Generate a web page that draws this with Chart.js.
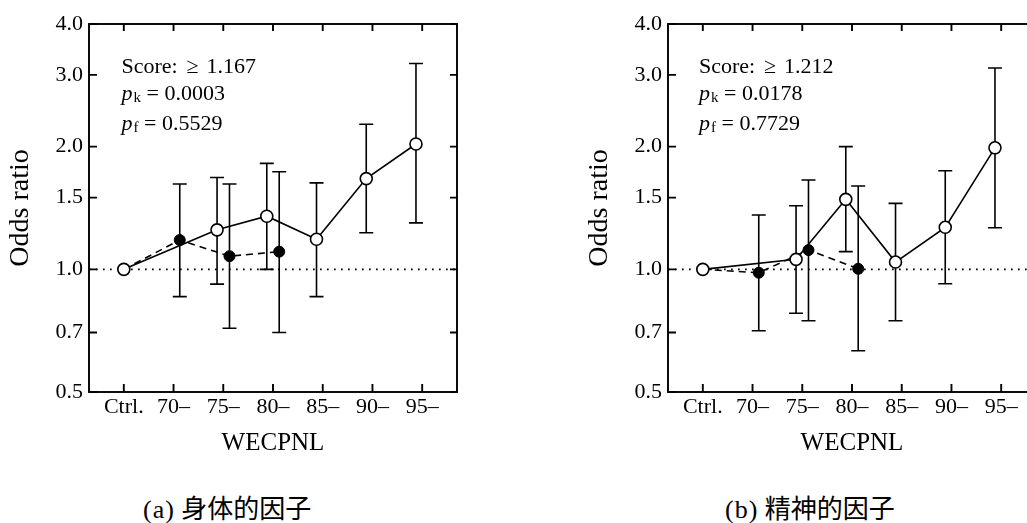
<!DOCTYPE html>
<html>
<head>
<meta charset="utf-8">
<script src="https://cdn.jsdelivr.net/npm/chart.js@4.4.0/dist/chart.umd.min.js"></script>
<style>
html,body{margin:0;padding:0;background:#fff;overflow:hidden;width:1027px;height:523px;}
.panel{position:absolute;top:0;width:500px;height:460px;}
.cap{position:absolute;top:492px;height:30px;line-height:30px;font-size:26px;white-space:nowrap;color:#000;}
.cap .l{font-family:"Liberation Serif",serif;letter-spacing:1px;}
.cap .c{font-family:"Noto Sans CJK JP",sans-serif;}
</style>
</head>
<body>
<div class="panel" style="left:0px"><canvas id="chartA" width="500" height="460"></canvas></div>
<div class="panel" style="left:579px"><canvas id="chartB" width="500" height="460"></canvas></div>
<div class="cap" style="left:143px"><span class="l">(a)</span> <span class="c">身体的因子</span></div>
<div class="cap" style="left:725px"><span class="l">(b)</span> <span class="c">精神的因子</span></div>
<script>
// ---- data ----
const categories = ["Ctrl.", "70–", "75–", "80–", "85–", "90–", "95–"];
const yTickValues = [0.5, 0.7, 1.0, 1.5, 2.0, 3.0, 4.0];

// (a) 身体的因子 : open circles (solid line)
const aOpenCat = [0, 2, 3, 4, 5, 6];
const aOpenOR  = [1.00, 1.25, 1.35, 1.185, 1.67, 2.03];
const aOpenLo  = [null, 0.92, 1.00, 0.857, 1.23, 1.30];
const aOpenHi  = [null, 1.68, 1.82, 1.63, 2.27, 3.20];
// (a) filled circles (dashed line)
const aFillCat = [0, 1, 2, 3];
const aFillOR  = [1.00, 1.18, 1.077, 1.105];
const aFillLo  = [null, 0.857, 0.717, 0.700];
const aFillHi  = [null, 1.62, 1.62, 1.735];
const aScore = "1.167", aPk = "0.0003", aPf = "0.5529";

// (b) 精神的因子 : open circles (solid line)
const bOpenCat = [0, 2, 3, 4, 5, 6];
const bOpenOR  = [1.00, 1.058, 1.485, 1.042, 1.268, 1.987];
const bOpenLo  = [null, 0.780, 1.105, 0.748, 0.922, 1.265];
const bOpenHi  = [null, 1.432, 2.00, 1.452, 1.745, 3.12];
// (b) filled circles (dashed line)
const bFillCat = [0, 1, 2, 3];
const bFillOR  = [1.00, 0.981, 1.115, 1.003];
const bFillLo  = [null, 0.707, 0.748, 0.631];
const bFillHi  = [null, 1.359, 1.656, 1.601];
const bScore = "1.212", bPk = "0.0178", bPf = "0.7729";

// ---- styling ----
const SERIF = '"Liberation Serif", "Times New Roman", serif';
const OPEN_SHIFT = -0.125, FILL_SHIFT = 0.125, CAP = 7;

function pts(cats, or, lo, hi, shift) {
  return cats.map((c, i) => ({ x: c === 0 ? 0 : c + shift, y: or[i], lo: lo[i], hi: hi[i] }));
}

const framePlugin = {
  id: 'frame',
  beforeDatasetsDraw(chart) {
    const { ctx, chartArea: a, scales: { x, y } } = chart;
    ctx.save();
    ctx.strokeStyle = '#000';
    const y1 = y.getPixelForValue(1);
    ctx.lineWidth = 1.7;
    ctx.setLineDash([1.7, 5.3]);
    ctx.beginPath(); ctx.moveTo(a.left, y1); ctx.lineTo(a.right, y1); ctx.stroke();
    ctx.setLineDash([]);
    ctx.lineWidth = 1.6;
    chart.data.datasets.forEach(ds => {
      ds.data.forEach(p => {
        if (p.lo == null) return;
        const px = x.getPixelForValue(p.x), pl = y.getPixelForValue(p.lo), ph = y.getPixelForValue(p.hi);
        ctx.beginPath();
        ctx.moveTo(px, pl); ctx.lineTo(px, ph);
        ctx.moveTo(px - CAP, pl); ctx.lineTo(px + CAP, pl);
        ctx.moveTo(px - CAP, ph); ctx.lineTo(px + CAP, ph);
        ctx.stroke();
      });
    });
    ctx.restore();
  },
  afterDraw(chart, args, opts) {
    const { ctx, chartArea: a, scales: { x, y } } = chart;
    ctx.save();
    ctx.strokeStyle = '#000';
    ctx.lineWidth = 1.9;
    ctx.strokeRect(a.left, a.top, a.right - a.left, a.bottom - a.top);
    ctx.beginPath();
    yTickValues.forEach(v => {
      const py = y.getPixelForValue(v);
      ctx.moveTo(a.left, py); ctx.lineTo(a.left + 8, py);
      ctx.moveTo(a.right, py); ctx.lineTo(a.right - 7, py);
    });
    categories.forEach((c, i) => {
      const px = x.getPixelForValue(i);
      ctx.moveTo(px, a.bottom); ctx.lineTo(px, a.bottom - 8);
      ctx.moveTo(px, a.top); ctx.lineTo(px, a.top + 7);
    });
    ctx.stroke();
    const x0 = a.left + opts.dx;
    const b = opts.baselines;
    ctx.fillStyle = '#000';
    ctx.textAlign = 'left';
    ctx.textBaseline = 'alphabetic';
    ctx.font = '22px ' + SERIF;
    ctx.fillText('Score:', x0, b[0]);
    ctx.fillText('≥', x0 + 65, b[0]);
    ctx.fillText(opts.score, x0 + 85, b[0]);
    [['k', opts.pk], ['f', opts.pf]].forEach(([sub, val], i) => {
      let xx = x0; const by = b[i + 1];
      ctx.font = 'italic 22px ' + SERIF;
      ctx.fillText('p', xx, by); xx += ctx.measureText('p').width + 1;
      ctx.font = '15px ' + SERIF;
      ctx.fillText(sub, xx, by + 2); xx += ctx.measureText(sub).width;
      ctx.font = '22px ' + SERIF;
      ctx.fillText(' = ' + val, xx, by);
    });
    ctx.restore();
  }
};

function makeChart(id, openPts, fillPts, stats) {
  return new Chart(document.getElementById(id), {
    type: 'line',
    data: {
      datasets: [
        {
          label: 'open', data: openPts, order: 1,
          borderColor: '#000', borderWidth: 1.6, tension: 0,
          pointRadius: 6, pointBorderWidth: 1.6,
          pointBackgroundColor: '#fff', pointBorderColor: '#000'
        },
        {
          label: 'filled', data: fillPts, order: 2,
          borderColor: '#000', borderWidth: 1.6, borderDash: [7, 5], tension: 0,
          pointRadius: fillPts.map(p => p.x === 0 ? 0 : 5.5), pointBorderWidth: 1,
          pointBackgroundColor: '#000', pointBorderColor: '#000'
        }
      ]
    },
    options: {
      responsive: false, animation: false, devicePixelRatio: 1,
      layout: { padding: { left: 0, top: 24, right: 43, bottom: 0 } },
      plugins: { legend: { display: false }, tooltip: { enabled: false }, frame: stats },
      scales: {
        x: {
          type: 'linear', min: -0.7, max: 6.7, position: 'bottom',
          afterBuildTicks: s => { s.ticks = categories.map((c, i) => ({ value: i })); },
          afterFit: s => { s.height = 68; },
          grid: { display: false, drawTicks: false }, border: { display: false },
          ticks: { autoSkip: false, maxRotation: 0, padding: 2, color: '#000',
                   font: { family: SERIF, size: 22 }, callback: v => categories[v] },
          title: { display: true, text: 'WECPNL', color: '#000',
                   font: { family: SERIF, size: 25 }, padding: { top: 0, bottom: 2 } }
        },
        y: {
          type: 'logarithmic', min: 0.5, max: 4.0, position: 'left',
          afterBuildTicks: s => { s.ticks = yTickValues.map(v => ({ value: v })); },
          afterFit: s => { s.width = 89; },
          grid: { display: false, drawTicks: false }, border: { display: false },
          ticks: { padding: 6, color: '#000', font: { family: SERIF, size: 22 },
                   callback: v => Number(v).toFixed(1) },
          title: { display: true, text: 'Odds ratio', color: '#000',
                   font: { family: SERIF, size: 28 }, padding: { top: 4, bottom: 0 } }
        }
      }
    },
    plugins: [framePlugin]
  });
}

makeChart('chartA',
  pts(aOpenCat, aOpenOR, aOpenLo, aOpenHi, OPEN_SHIFT),
  pts(aFillCat, aFillOR, aFillLo, aFillHi, FILL_SHIFT),
  { dx: 32.5, baselines: [73, 100, 130], score: aScore, pk: aPk, pf: aPf });
makeChart('chartB',
  pts(bOpenCat, bOpenOR, bOpenLo, bOpenHi, OPEN_SHIFT),
  pts(bFillCat, bFillOR, bFillLo, bFillHi, FILL_SHIFT),
  { dx: 31, baselines: [73, 100, 130], score: bScore, pk: bPk, pf: bPf });
</script>
</body>
</html>
